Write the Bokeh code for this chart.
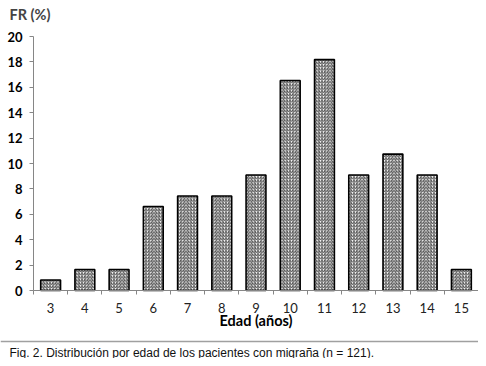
from bokeh.plotting import figure
from bokeh.models import FixedTicker, Range1d, Label, ColumnDataSource, Span
from bokeh.embed import file_html
from bokeh.resources import INLINE

ages = [3, 4, 5, 6, 7, 8, 9, 10, 11, 12, 13, 14, 15]
fr = [0.83, 1.65, 1.65, 6.61, 7.44, 7.44, 9.09, 16.53, 18.18, 9.09, 10.74, 9.09, 1.65]
y_ticks = [0, 2, 4, 6, 8, 10, 12, 14, 16, 18, 20]
x_label = "Edad (años)"
y_label = "FR (%)"
caption = "Fig. 2. Distribución por edad de los pacientes con migraña (n = 121)."

AXIS_GRAY = "#868686"
W, H = 478, 358
OFFX, OFFY = 0, 0          # where the canvas lands in the picture
# plot area targets (picture pixels)
AX_L, AX_R, AX_T, AX_B = 33, 478, 36, 290
X0, X1 = ages[0] - 0.5, ages[-1] + 0.5
Y0, Y1 = y_ticks[0], y_ticks[-1]
sx = (X1 - X0) / (AX_R - AX_L)
sy = (Y1 - Y0) / (AX_B - AX_T)


def px_x(px):
    return X0 + (px - AX_L) * sx


def px_y(py):
    return Y0 + (AX_B - py) * sy


p = figure(width=W, height=H, output_backend="svg", toolbar_location=None, title=None,
           x_range=Range1d(px_x(OFFX), px_x(OFFX + W)),
           y_range=Range1d(px_y(OFFY + H), px_y(OFFY)),
           min_border=0, min_border_left=0, min_border_right=0,
           min_border_top=0, min_border_bottom=0)
p.outline_line_color = None
p.grid.visible = False
p.background_fill_color = "white"
p.border_fill_color = "white"

src = ColumnDataSource(dict(x=ages, top=fr))
p.vbar(x="x", top="top", bottom=0, width=0.58, source=src,
       fill_color="white", line_color="black", line_width=1.6,
       hatch_pattern="right_diagonal_line", hatch_color="#3a3a3a",
       hatch_scale=3.2, hatch_weight=0.9)

xa = p.xaxis[0]
xa.fixed_location = Y0
xa.bounds = (X0, X1)
xa.ticker = FixedTicker(ticks=ages, minor_ticks=[a - 0.5 for a in ages] + [X1])
xa.major_tick_line_color = None
xa.major_tick_out = 0
xa.major_tick_in = 0
xa.minor_tick_line_color = AXIS_GRAY
xa.minor_tick_out = 4
xa.minor_tick_in = 0
xa.axis_line_color = AXIS_GRAY
xa.major_label_standoff = 8
xa.major_label_text_font = "Lato"
xa.major_label_text_font_size = "13px"
xa.major_label_text_color = "#222222"
xa.axis_label = x_label
xa.axis_label_text_font = "Lato"
xa.axis_label_text_font_style = "bold"
xa.axis_label_text_font_size = "14.5px"
xa.axis_label_standoff = -4
xa.axis_label_text_color = "black"

ya = p.yaxis[0]
ya.fixed_location = X0
ya.bounds = (Y0, Y1)
ya.ticker = FixedTicker(ticks=y_ticks)
ya.minor_tick_line_color = None
ya.major_tick_line_color = AXIS_GRAY
ya.major_tick_out = 4
ya.major_tick_in = 0
ya.axis_line_color = AXIS_GRAY
ya.major_label_standoff = 7
ya.major_label_text_font = "Lato"
ya.major_label_text_font_style = "bold"
ya.major_label_text_font_size = "13px"
ya.major_label_text_color = "black"

p.add_layout(Label(x=px_x(9), y=px_y(14), text=y_label,
                   text_font="Lato", text_font_style="bold", text_font_size="14.5px",
                   text_baseline="middle", text_align="left"))

p.add_layout(Span(location=px_y(341), dimension="width", line_color="#a0a0a0", line_width=1.5))

p.add_layout(Label(x=px_x(9), y=px_y(352), text=caption,
                   text_font="Liberation Sans", text_font_size="12px",
                   text_baseline="middle", text_align="left", text_color="#111111"))

open("out.html", "w").write(file_html(p, INLINE))
